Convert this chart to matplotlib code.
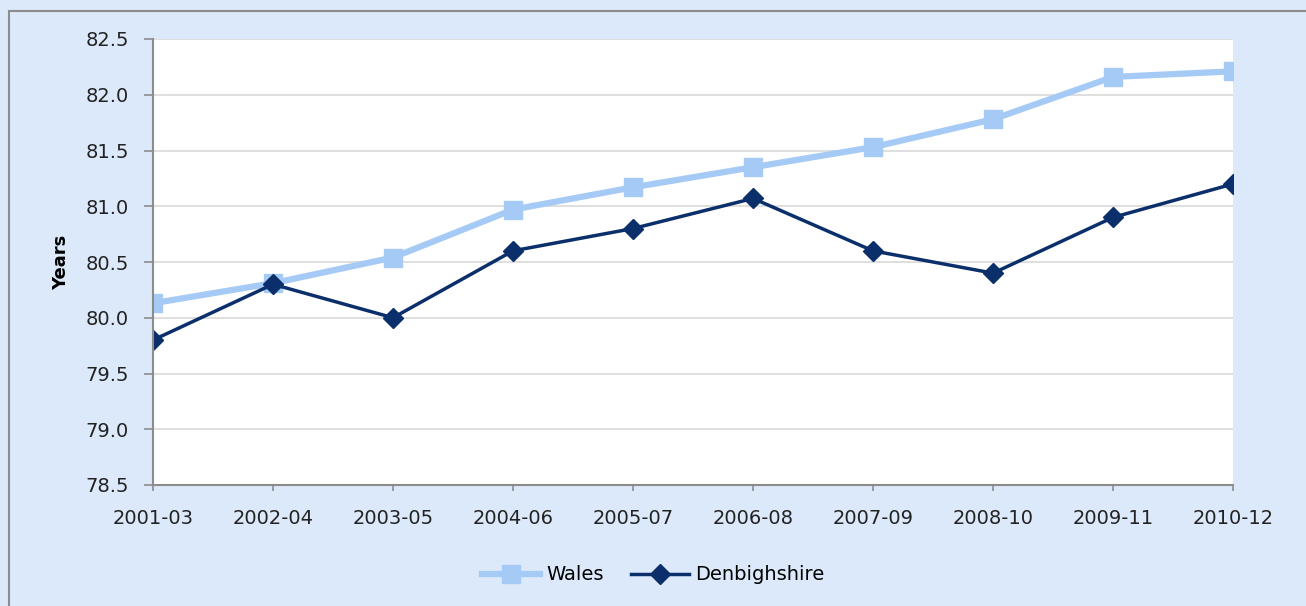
import matplotlib.pyplot as plt
from matplotlib.patches import Rectangle

periods = ['2001-03', '2002-04', '2003-05', '2004-06', '2005-07',
           '2006-08', '2007-09', '2008-10', '2009-11', '2010-12']
wales = [80.13, 80.31, 80.54, 80.97, 81.17, 81.35, 81.53, 81.78, 82.16, 82.21]
denbighshire = [79.8, 80.3, 80.0, 80.6, 80.8, 81.07, 80.6, 80.4, 80.9, 81.2]
yticks = [78.5, 79.0, 79.5, 80.0, 80.5, 81.0, 81.5, 82.0, 82.5]

bg = '#dce9fb'
fig = plt.figure(figsize=(13.06, 6.06), dpi=100, facecolor=bg)
fig.patches.append(Rectangle((9 / 1306, -0.01), 1.05, (606 - 11) / 606 + 0.01,
                             transform=fig.transFigure, fill=False,
                             edgecolor='#8c8c8c', lw=1.5))

ax = fig.add_axes([153 / 1306, 121 / 606, 1080 / 1306, 446 / 606])
ax.set_facecolor('white')
x = range(len(periods))

ax.plot(x, wales, color='#a6caf6', lw=4.5, marker='s', ms=12.5, label='Wales')
ax.plot(x, denbighshire, color='#0b2f6b', lw=2.5, marker='D', ms=10.5,
        label='Denbighshire')

ax.set_xlim(0, len(periods) - 1)
ax.set_ylim(78.5, 82.5)
ax.set_yticks(yticks)
ax.set_yticklabels([f'{v:.1f}' for v in yticks])
ax.set_xticks(list(x))
ax.set_xticklabels(periods)
ax.yaxis.grid(True, color='#d9d9d9', lw=1.2)
ax.set_axisbelow(True)
for s in ['top', 'right']:
    ax.spines[s].set_visible(False)
for s in ['left', 'bottom']:
    ax.spines[s].set_color('#8c8c8c')
    ax.spines[s].set_linewidth(1.5)
ax.tick_params(axis='both', direction='out', color='#8c8c8c', width=1.2,
               labelsize=14, labelcolor='#222222')
ax.tick_params(axis='y', length=6.5, pad=11)
ax.tick_params(axis='x', length=4.5, pad=13)
for lbl in ax.get_xticklabels() + ax.get_yticklabels():
    lbl.set_clip_on(False)

ax.set_ylabel('Years', fontsize=13, fontweight='bold')
ax.yaxis.set_label_coords(-83 / 1080, 0.5)

leg = fig.legend(loc='center', bbox_to_anchor=(0.5, 31 / 606), ncol=2,
                 frameon=False, fontsize=14, handlelength=3.0,
                 columnspacing=1.4, handletextpad=0.3)

fig.savefig('out.png', dpi=100, facecolor=bg)
